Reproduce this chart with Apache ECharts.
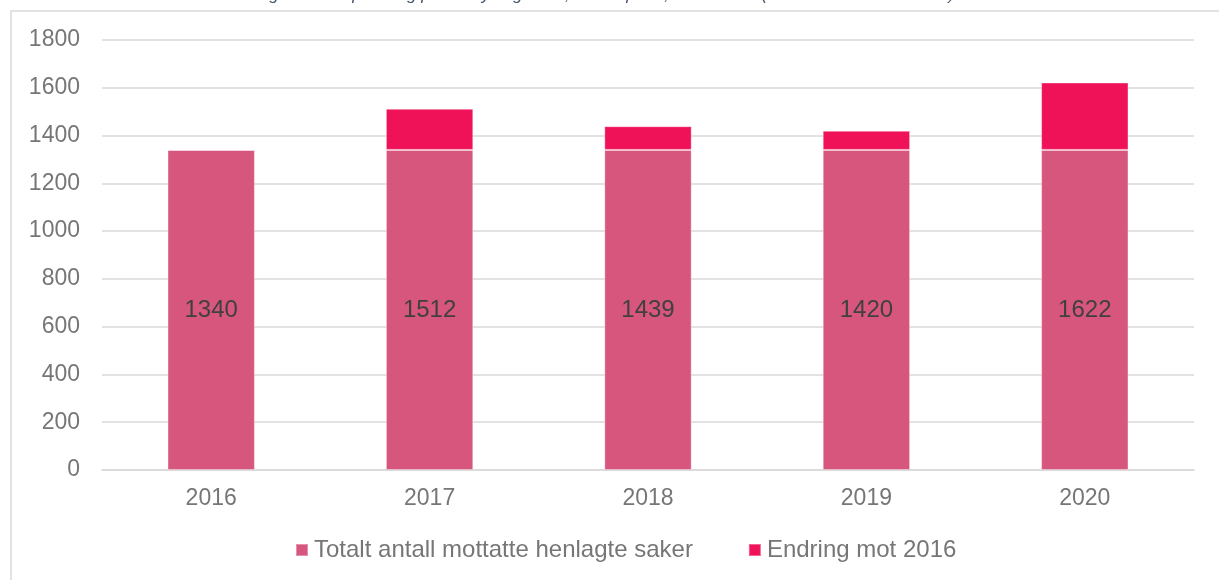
<!DOCTYPE html>
<html>
<head>
<meta charset="utf-8">
<script src="https://cdn.jsdelivr.net/npm/echarts@6/dist/echarts.min.js"></script>
<style>
  html, body { margin: 0; padding: 0; background: #fff; }
  #chart { width: 1219px; height: 580px; }
</style>
</head>
<body>
<div id="chart"></div>
<script>
// data
var years = ['2016', '2017', '2018', '2019', '2020'];
var baseline = [1340, 1340, 1340, 1340, 1340];     // nivå 2016
var totals = [1340, 1512, 1439, 1420, 1622];       // totalt mottatte henlagte saker
var yTicks = { min: 0, max: 1800, step: 200 };

var seriesNames = ['Totalt antall mottatte henlagte saker', 'Endring mot 2016'];

// endring = total - 2016-nivå
var change = totals.map(function (v, i) { return v - baseline[i]; });

var font = '"Liberation Sans", Arial, sans-serif';
var grey = '#767676';
var myChart = echarts.init(document.getElementById('chart'));

option = {
    animation: false,
    textStyle: { fontFamily: font },
    graphic: [
        {
            type: 'rect',
            shape: { x: 11, y: 11, width: 1240, height: 600 },
            style: { fill: 'none', stroke: '#d9d9d9', lineWidth: 1.5 },
            z: -1
        },
        {
            type: 'text',
            left: 2,
            top: -13,
            style: {
                text: 'Tabell 1: Totalt antall mottatte henlagte saker i politi- og påtalemyndigheten, fordelt på år, hele landet (absolutte tall 2016-2020)',
                font: 'italic 17px ' + font,
                fill: '#44546A'
            }
        }
    ],
    grid: { left: 102, right: 25, top: 40, bottom: 110 },
    legend: {
        left: 290,
        bottom: 13,
        itemWidth: 12,
        itemHeight: 12,
        itemGap: 55,
        icon: 'rect',
        textStyle: { fontSize: 24, color: grey, fontFamily: font, padding: [0, 0, 0, 1] },
        data: seriesNames
    },
    xAxis: {
        type: 'category',
        data: years,
        axisLine: { lineStyle: { color: '#d9d9d9', width: 1.5 } },
        axisTick: { show: false },
        axisLabel: { fontSize: 23, color: grey, margin: 17, fontFamily: font }
    },
    yAxis: {
        type: 'value',
        min: yTicks.min,
        max: yTicks.max,
        interval: yTicks.step,
        axisLine: { show: false },
        axisTick: { show: false },
        splitLine: { lineStyle: { color: '#d9d9d9', width: 1.5 } },
        axisLabel: {
            fontSize: 23, color: grey, margin: 22, fontFamily: font,
            formatter: function (v) { return String(v); }
        }
    },
    series: [
        {
            name: seriesNames[0],
            type: 'bar',
            stack: 'tot',
            barWidth: '40%',
            data: baseline,
            itemStyle: { color: '#D7567E', borderColor: 'rgba(255,255,255,0.35)', borderWidth: 1 },
            label: {
                show: true,
                position: 'inside',
                fontSize: 24,
                color: '#404040',
                fontFamily: font,
                formatter: function (p) { return totals[p.dataIndex]; }
            }
        },
        {
            name: seriesNames[1],
            type: 'bar',
            stack: 'tot',
            barWidth: '40%',
            data: change,
            itemStyle: { color: '#EF1259', borderColor: 'rgba(255,255,255,0.35)', borderWidth: 1 }
        }
    ]
};

myChart.setOption(option);
</script>
</body>
</html>
